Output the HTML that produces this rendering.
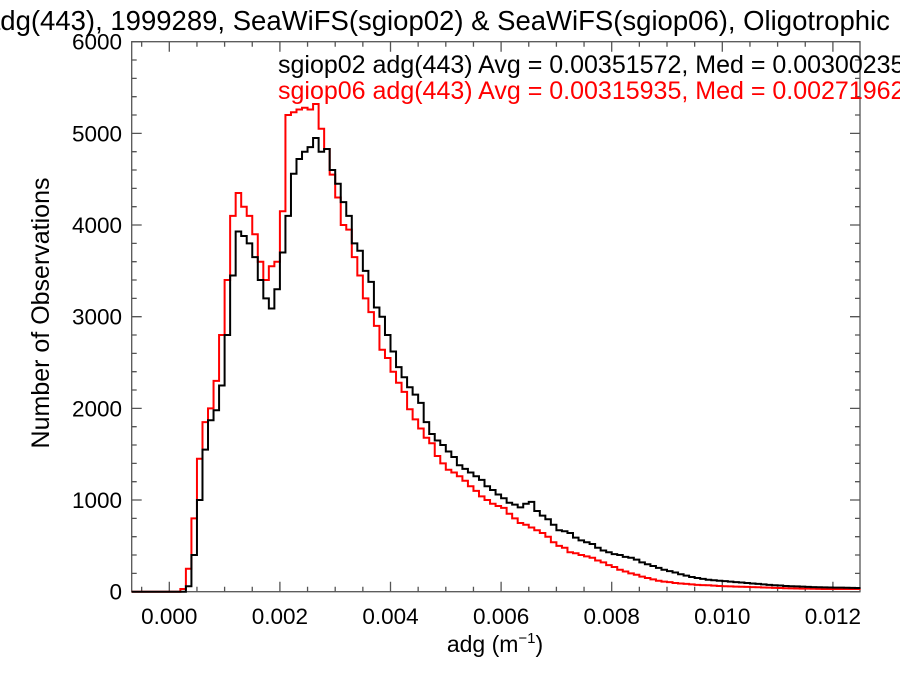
<!DOCTYPE html>
<html><head><meta charset="utf-8"><style>
html,body{margin:0;padding:0;background:#fff;}
svg{display:block;font-family:"Liberation Sans",Arial,sans-serif;}
</style></head><body>
<svg id="chart" width="900" height="675" viewBox="0 0 900 675">
<text x="-15" y="30" font-size="27.5" fill="#000">adg(443), 1999289, SeaWiFS(sgiop02) &amp; SeaWiFS(sgiop06), Oligotrophic</text>
<g id="axes"></g>
<g id="series"></g>
<text x="278" y="73" font-size="25" fill="#000">sgiop02 adg(443) Avg = 0.00351572, Med = 0.00300235</text>
<text x="278" y="99" font-size="25" fill="#ff0000">sgiop06 adg(443) Avg = 0.00315935, Med = 0.00271962</text>
<text x="495" y="652" font-size="23" text-anchor="middle">adg (m<tspan font-size="15" dy="-9">−1</tspan><tspan dy="9">)</tspan></text>
<text transform="translate(49,313) rotate(-90)" font-size="25" text-anchor="middle">Number of Observations</text>
</svg>
<script>
const binStart = 0.0002;
const binWidth = 0.0001;
const xTicks = ["0.000","0.002","0.004","0.006","0.008","0.010","0.012"];
const yTicks = ["0","1000","2000","3000","4000","5000","6000"];
const sgiop02 = [0,60,400,1000,1550,1870,1980,2250,2800,3450,3930,3880,3800,3650,3400,3200,3090,3300,3700,4100,4560,4720,4800,4850,4950,4800,4830,4600,4450,4250,4100,3800,3720,3500,3380,3100,3000,2800,2620,2450,2340,2230,2150,2060,1850,1720,1650,1600,1530,1470,1380,1340,1300,1260,1220,1150,1110,1060,1020,970,950,920,960,980,880,830,790,730,670,660,640,590,560,540,520,480,450,430,410,400,380,370,350,320,300,280,260,240,225,210,190,175,160,150,140,130,125,120,115,110,105,100,95,90,85,80,75,70,68,62,60,58,55,52,50,48,47,46,45,44,43,42,41];
const sgiop06 = [30,250,800,1450,1850,2000,2300,2800,3400,4100,4350,4200,4100,3900,3600,3400,3550,3600,4150,5200,5230,5260,5280,5260,5320,5050,4830,4550,4300,4000,3950,3650,3450,3200,3050,2900,2640,2550,2400,2280,2180,1990,1880,1780,1680,1620,1480,1400,1330,1300,1260,1210,1150,1100,1040,1000,960,935,915,850,800,750,730,700,670,640,600,540,500,480,430,420,400,385,370,340,320,290,270,240,220,200,185,165,150,135,120,110,105,95,90,85,80,75,72,70,66,62,60,58,56,54,52,50,48,46,44,42,40,38,36,35,34,33,32,31,30,30,30,30,30,30,30];

const L=131.7,R=860,T=41.7,B=591.7;
const xMin=-0.00068,xMax=0.01249,yMin=0,yMax=6000;
const xs=v=>L+(v-xMin)/(xMax-xMin)*(R-L);
const ys=v=>B-(v-yMin)/(yMax-yMin)*(B-T);
const NS="http://www.w3.org/2000/svg";
function mk(tag,attrs,parent){const e=document.createElementNS(NS,tag);for(const k in attrs)e.setAttribute(k,attrs[k]);parent.appendChild(e);return e;}
const axes=document.getElementById('axes');
const frame=mk('rect',{x:L,y:T,width:R-L,height:B-T,fill:'none',stroke:'#555','stroke-width':1.3},axes);


let d='';
for(let v=-0.0005;v<=xMax+1e-9;v+=0.0005){const x=xs(v);const major=Math.abs(Math.round(v/0.002)*0.002-v)<1e-7;const len=major?10:5;d+=`M${x},${B}v${-len}M${x},${T}v${len}`;}
for(let v=0;v<=yMax+1e-6;v+=200){const y=ys(v);const major=v%1000===0;const len=major?10:5;d+=`M${L},${y}h${len}M${R},${y}h${-len}`;}
const tk=mk('path',{d:d,stroke:'#555','stroke-width':1.3,fill:'none'},axes);


xTicks.forEach(s=>{const t=mk('text',{x:xs(parseFloat(s)),y:624,'font-size':22.5,'text-anchor':'middle'},axes);t.textContent=s;

});
yTicks.forEach(s=>{const t=mk('text',{x:122,y:ys(parseFloat(s))+8,'font-size':22.5,'text-anchor':'end'},axes);t.textContent=s;

});
function stepPath(vals){let p=`M${L},${ys(0)}H${xs(binStart)}`;vals.forEach((v,i)=>{const x1=xs(binStart+(i+1)*binWidth);p+=`V${ys(v)}H${x1}`;});p+=`H${R}`;return p;}
const g=document.getElementById('series');
const p1=mk('path',{d:stepPath(sgiop06),stroke:'#ff0000','stroke-width':2,fill:'none'},g);


const p2=mk('path',{d:stepPath(sgiop02),stroke:'#000','stroke-width':2,fill:'none'},g);


</script>
</body></html>
